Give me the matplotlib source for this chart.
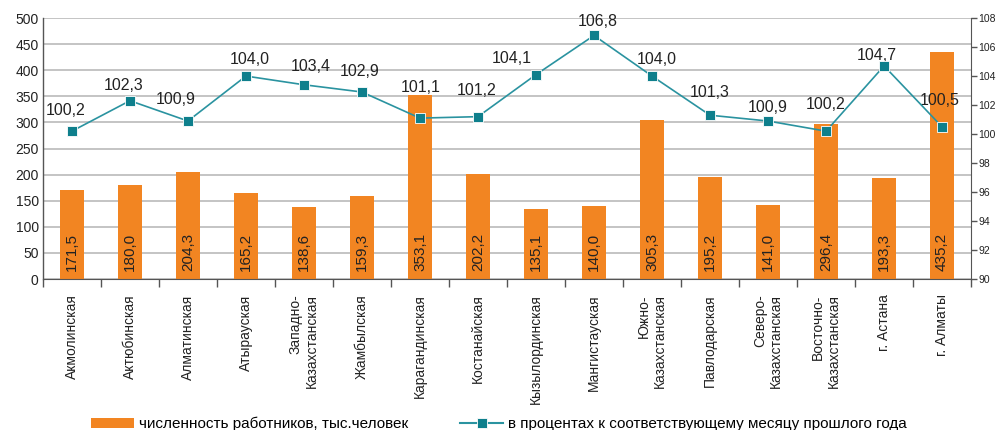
import matplotlib
matplotlib.use("Agg")
import matplotlib.pyplot as plt
import numpy as np
from matplotlib.lines import Line2D
from matplotlib.patches import Patch

plt.rcParams['font.family'] = ['Liberation Sans', 'DejaVu Sans']

regions = ["Акмолинская", "Актюбинская", "Алматинская", "Атырауская",
           "Западно-\nКазахстанская", "Жамбылская", "Карагандинская",
           "Костанайская", "Кызылординская", "Мангистауская",
           "Южно-\nКазахстанская", "Павлодарская", "Северо-\nКазахстанская",
           "Восточно-\nКазахстанская", "г. Астана", "г. Алматы"]
workers = [171.5, 180.0, 204.3, 165.2, 138.6, 159.3, 353.1, 202.2,
           135.1, 140.0, 305.3, 195.2, 141.0, 296.4, 193.3, 435.2]
percent = [100.2, 102.3, 100.9, 104.0, 103.4, 102.9, 101.1, 101.2,
           104.1, 106.8, 104.0, 101.3, 100.9, 100.2, 104.7, 100.5]
left_ticks = list(range(0, 501, 50))
right_ticks = list(range(90, 109, 2))
bar_name = "численность работников, тыс.человек"
line_name = "в процентах к соответствующему месяцу прошлого года"

# label offsets in pixels (style only)
lbl_dx = [-6, -6, -12, 4, 7, -2, 1, -1, -24, 4, 5, 0, 0, 0, -7, -2]
lbl_dy = [21, 15, 22, 17, 18, 21, 31, 26, 16, 14, 17, 23, 14, 27, 10, 26]

orange = "#F28522"
teal = "#0E7F8C"
tealline = "#2A93A0"

fig = plt.figure(figsize=(9.98, 4.30), dpi=100)
ax = fig.add_axes([0.043, 0.351, 0.930, 0.607])
x = np.arange(len(regions))

ax.bar(x, workers, width=0.41, color=orange, zorder=2)
ax.set_ylim(0, 500)
ax.set_xlim(-0.5, len(regions) - 0.5)
ax.set_yticks(left_ticks)
ax.tick_params(axis='y', labelsize=10, length=0, pad=3, colors='#222222')
ax.yaxis.grid(True, color='#c4c4c4', linewidth=1.4, zorder=0)
ax.set_axisbelow(True)

for i, v in enumerate(workers):
    ax.annotate(f"{v:.1f}".replace('.', ','), (x[i], 0), xytext=(0, 8),
                textcoords='offset pixels', rotation=90, ha='center',
                va='bottom', fontsize=11, color='#222222', zorder=4)

ax.set_xticks(x)
ax.set_xticklabels(regions, rotation=90, fontsize=10, va='top', ha='center',
                   multialignment='right', color='#222222')
ax.tick_params(axis='x', length=0, pad=11)
ax.set_xticks(np.arange(-0.5, len(regions), 1), minor=True)
ax.tick_params(axis='x', which='minor', length=6, width=1, color='#555555')

for s in ['top', 'right']:
    ax.spines[s].set_visible(False)
ax.spines['left'].set_color('#555555')
ax.spines['bottom'].set_color('#555555')
ax.spines['left'].set_linewidth(1)

ax2 = ax.twinx()
ax2.set_ylim(90, 108)
ax2.set_yticks(right_ticks)
ax2.tick_params(axis='y', labelsize=7.5, length=4, width=1, color='#555555',
                colors='#222222', pad=1.5)
for s in ['top', 'left', 'bottom']:
    ax2.spines[s].set_visible(False)
ax2.spines['right'].set_color('#555555')
ax2.plot(x, percent, color=tealline, linewidth=1.2, marker='s',
         markersize=7, markerfacecolor=teal, markeredgecolor='#ffffff',
         markeredgewidth=0.6, zorder=5)
for i, v in enumerate(percent):
    ax2.annotate(f"{v:.1f}".replace('.', ','), (x[i], v),
                 xytext=(lbl_dx[i], lbl_dy[i]), textcoords='offset pixels',
                 ha='center', va='center', fontsize=11.5, color='#222222')

handles = [Patch(facecolor=orange, edgecolor='none'),
           Line2D([0], [0], color=tealline, linewidth=1.5, marker='s',
                  markersize=7, markerfacecolor=teal,
                  markeredgecolor='#ffffff', markeredgewidth=0.6)]
fig.legend(handles, [bar_name, line_name], loc='lower center',
           bbox_to_anchor=(0.5, -0.035), ncol=2, frameon=False, fontsize=11,
           handlelength=2.8, handleheight=0.6, columnspacing=3.4,
           handletextpad=0.35)

fig.savefig("out.png", dpi=100)
